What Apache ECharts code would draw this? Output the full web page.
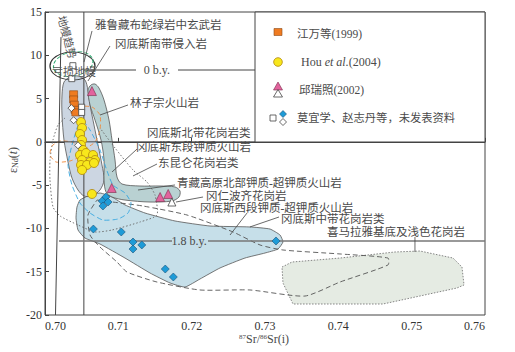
<!DOCTYPE html>
<html><head><meta charset="utf-8">
<script src="https://cdn.jsdelivr.net/npm/echarts/dist/echarts.min.js"></script>
<style>html,body{margin:0;padding:0;background:#fff}#c{width:515px;height:352px}</style>
</head><body><div id="c"></div>
<script>
// ---------- data (x = 87Sr/86Sr(i), y = εNd(t)) ----------
const orangeSquares = [[0.7039,5.5],[0.7039,4.9],[0.7040,4.3],[0.7041,3.7],[0.7042,3.4]];
const yellowCircles = [[0.70491,2.29],[0.70505,1.60],[0.70477,0.91],[0.70505,0.21],[0.70491,-0.36],[0.70518,-0.94],[0.70477,-1.52],[0.70559,-1.29],[0.70655,-1.52],[0.70682,-2.10],[0.70505,-2.10],[0.70614,-2.33],[0.70491,-2.67],[0.70573,-2.67],[0.70668,-2.44],[0.70505,-3.25],[0.70641,-6.02]];
const pinkTriangles = [[0.7064,5.87],[0.7091,-5.33],[0.7157,-6.37],[0.7168,-6.02]];
const openTriangles = [[0.7173,-6.95]];
const openSquares = [[0.7038,8.8],[0.70365,7.3],[0.7050,4.0],[0.7050,3.4]];
const openDiamonds = [[0.7036,3.9],[0.7039,2.5],[0.7045,-0.4]];
const blueDiamonds = [[0.7083,-6.37],[0.7078,-6.83],[0.7086,-6.95],[0.7079,-7.41],[0.7066,-10.07],[0.7104,-10.41],[0.7120,-11.57],[0.7132,-11.91],[0.7120,-12.38],[0.7164,-14.69],[0.7175,-15.61],[0.7315,-11.45]];

// field outlines
const fieldGangdese = [[0.70259,6.91],[0.70341,7.49],[0.70450,7.61],[0.70545,7.15],[0.70586,5.99],[0.70614,4.26],[0.70668,1.95],[0.70723,-0.36],[0.70777,-2.67],[0.70805,-4.41],[0.70750,-5.56],[0.70641,-6.25],[0.70532,-6.25],[0.70450,-5.56],[0.70368,-4.18],[0.70314,-2.33],[0.70259,0.21],[0.70232,3.10],[0.70232,5.41]];
const fieldNTibet = [[0.70586,5.99],[0.70627,6.57],[0.70682,6.68],[0.70736,6.22],[0.70805,4.83],[0.70873,2.52],[0.70914,0.21],[0.70955,-2.10],[0.70982,-4.06],[0.71050,-4.87],[0.71295,-5.10],[0.71568,-5.10],[0.71773,-5.21],[0.71841,-5.68],[0.71827,-6.37],[0.71732,-6.83],[0.71432,-6.95],[0.71091,-6.72],[0.70914,-6.37],[0.70832,-5.79],[0.70805,-4.41],[0.70805,-2.10],[0.70764,0.21],[0.70682,2.52],[0.70614,4.26]];
const fieldWestK = [[0.70436,-7.52],[0.70477,-6.72],[0.70586,-6.25],[0.70750,-5.91],[0.70914,-6.37],[0.71091,-7.29],[0.71364,-8.22],[0.71773,-9.14],[0.72250,-9.72],[0.72795,-9.83],[0.73068,-10.07],[0.73205,-10.76],[0.73245,-11.57],[0.73177,-12.38],[0.73000,-12.84],[0.72727,-13.42],[0.72386,-14.57],[0.72114,-15.84],[0.71909,-16.77],[0.71705,-16.30],[0.71432,-15.15],[0.71091,-13.42],[0.70750,-11.80],[0.70545,-11.11],[0.70450,-10.18],[0.70423,-8.80]];
const fieldHimalaya = [[0.73232,-14.46],[0.73368,-13.88],[0.74023,-13.42],[0.74773,-12.72],[0.75114,-12.61],[0.75564,-13.42],[0.75686,-14.46],[0.75714,-16.53],[0.75618,-16.88],[0.74609,-18.73],[0.73382,-18.73],[0.73245,-16.30]];
const outlineMidBelt = [[0.70709,-6.72],[0.71023,-7.06],[0.71336,-7.41],[0.71936,-8.45],[0.72564,-10.41],[0.72932,-11.91],[0.73245,-12.49],[0.74023,-12.95],[0.74677,-13.42],[0.74677,-14.22],[0.74023,-16.19],[0.73545,-17.81],[0.72795,-17.11],[0.72114,-17.11],[0.71527,-16.19],[0.71118,-15.03],[0.70982,-13.88],[0.70750,-12.15],[0.70614,-10.76],[0.70586,-8.45]];
const outlineKunlun = [[0.70273,2.76],[0.70177,1.95],[0.70109,0.21],[0.70068,-2.10],[0.70068,-4.41],[0.70109,-7.52],[0.70205,-8.56],[0.70450,-9.60],[0.70682,-10.41],[0.70914,-10.18],[0.71295,-9.26],[0.71527,-8.45],[0.71500,-6.14],[0.71391,-4.64],[0.71200,-3.25],[0.70955,-0.71],[0.70750,1.60]];
const outlineLinzizong = [[0.70450,4.14],[0.70641,4.03],[0.70750,3.10],[0.70750,1.37],[0.70682,-0.02],[0.70545,-0.71],[0.70368,-0.02],[0.70205,0.10],[0.70095,-0.48],[0.70068,-1.52],[0.70150,-2.33],[0.70341,-2.21],[0.70505,-1.63]];
const outlineEastK = [[0.70450,1.95],[0.70368,-0.36],[0.70314,-2.67],[0.70368,-4.98],[0.70477,-7.06],[0.70614,-8.22],[0.70791,-9.03],[0.70995,-8.91],[0.71132,-8.22],[0.71173,-7.06],[0.71091,-5.91],[0.70927,-4.98],[0.70832,-3.02],[0.70750,-0.94],[0.70614,1.37],[0.70505,2.52]];

// reference lines [x1,y1,x2,y2]
const mantleLine = [[0.70218,12.1,0.70143,-20]];
const refLines = [[0.7053,15,0.7053,-20],[0.70,0,0.76,0]];
const isochron0 = [[0.7053,8.3,0.71241,8.3],[0.71814,8.3,0.72864,8.3]];
const isochron18 = [[0.70191,-11.45,0.71732,-11.45],[0.72223,-11.45,0.76,-11.45]];
const leaderLines = [[0.70641,12.81,0.70532,9.22],[0.70886,11.07,0.70586,7.03],[0.71132,4.26,0.70750,3.10],[0.71255,-0.83,0.70914,-3.48],[0.71527,-2.56,0.71200,-3.94],[0.71773,-4.98,0.71268,-5.56],[0.72155,-6.37,0.71786,-6.95],[0.72755,-8.22,0.72523,-10.76],[0.73191,-8.68,0.72795,-9.83],[0.75045,-10.99,0.75045,-12.72]];

// ellipses: centre, half-axes
const dmEllipse = [0.70375, 8.76, 0.00307, 1.62];
const dmEllipseInner = [0.70385, 9.0, 0.00273, 1.39];

// text annotations
const labelTexts = ['雅鲁藏布蛇绿岩中玄武岩','冈底斯南带侵入岩','林子宗火山岩','冈底斯北带花岗岩类','冈底斯东段钾质火山岩','东昆仑花岗岩类','青藏高原北部钾质-超钾质火山岩','冈仁波齐花岗岩','冈底斯西段钾质-超钾质火山岩','冈底斯中带花岗岩类','喜马拉雅基底及浅色花岗岩'];
const labelAnchors = [[0.70682,13.5],[0.70955,11.3],[0.71159,4.49],[0.71391,1.02],[0.71241,-0.59],[0.71541,-2.44],[0.71800,-4.75],[0.72195,-6.25],[0.72114,-7.64],[0.73218,-8.91],[0.73845,-10.41]];
const ageTexts = ['0 b.y.','1.8 b.y.'];
const ageAnchors = [[0.71527,8.3],[0.71964,-11.45]];
const smallTexts = ['地幔趋势','亏损地幔'];
const smallAnchors = [[0.70300,12.1],[0.70395,8.07]];

// ---------- chart ----------
const CJK = "'Liberation Serif','Noto Sans CJK SC'";
const TXT = '#4a4a4a';
const chart = echarts.init(document.getElementById('c'), null, {renderer:'svg'});

function field(pts, style, smooth, z){
  return {type:'custom', coordinateSystem:'cartesian2d', silent:true, z:z, clip:false,
    data:[pts[0]], encode:{x:0,y:1},
    renderItem:function(p, api){
      return {type:'polygon', shape:{points:pts.map(d=>api.coord(d)), smooth:smooth||0}, style:Object.assign({}, style)};
    }};
}
function outline(pts, style, closed, z){
  return {type:'custom', coordinateSystem:'cartesian2d', silent:true, z:z, clip:false,
    data:[pts[0]], encode:{x:0,y:1},
    renderItem:function(p, api){
      const q = pts.map(d=>api.coord(d));
      if (closed) q.push(q[0]);
      return {type:'polyline', shape:{points:q, smooth:0.2}, style:Object.assign({fill:'none'}, style)};
    }};
}
function segs(list, style, z){
  return {type:'custom', coordinateSystem:'cartesian2d', silent:true, z:z, clip:false,
    data:list, encode:{x:[0,2], y:[1,3]},
    renderItem:function(p, api){
      const a = api.coord([api.value(0), api.value(1)]);
      const b = api.coord([api.value(2), api.value(3)]);
      return {type:'line', shape:{x1:a[0],y1:a[1],x2:b[0],y2:b[1]}, style:Object.assign({fill:'none'}, style)};
    }};
}
function ellipse(e, style, rot, z){
  return {type:'custom', coordinateSystem:'cartesian2d', silent:true, z:z, clip:false,
    data:[[e[0],e[1]]], encode:{x:0,y:1},
    renderItem:function(p, api){
      const c = api.coord([e[0], e[1]]);
      const s = api.size([e[2], e[3]], [e[0], e[1]]);
      return {type:'circle', x:c[0], y:c[1], rotation:rot, scaleX:s[0]/s[1], scaleY:1,
        shape:{cx:0, cy:0, r:s[1]}, style:Object.assign({fill:'none', strokeNoScale:true}, style)};
    }};
}
function texts(strs, anchors, style, z, rots){
  return {type:'custom', coordinateSystem:'cartesian2d', silent:true, z:z, clip:false,
    data:anchors, encode:{x:0,y:1},
    renderItem:function(p, api){
      const c = api.coord([api.value(0), api.value(1)]);
      return {type:'text', x:c[0], y:c[1], rotation: rots ? rots[p.dataIndex] : 0,
        style:Object.assign({text:strs[p.dataIndex]}, style)};
    }};
}
function scatter(data, symbol, size, color, border, bw){
  return {type:'scatter', data:data, symbol:symbol, symbolSize:size, z:10, silent:true,
    itemStyle:{color:color, borderColor:border, borderWidth:bw, opacity:1}};
}

const option = {
  animation:false,
  backgroundColor:'#fff',
  grid:{left:45, right:30, top:12, bottom:37, show:true, borderColor:'#444', borderWidth:1},
  xAxis:{type:'value', min:0.70, max:0.76, interval:0.01,
    axisLine:{lineStyle:{color:'#444'}}, axisTick:{inside:true, length:4, lineStyle:{color:'#444'}},
    splitLine:{show:false},
    axisLabel:{formatter:v=>v.toFixed(2), fontFamily:'Liberation Serif', fontSize:12, color:'#333', margin:5, alignMinLabel:'left', alignMaxLabel:'right'}},
  yAxis:{type:'value', min:-20, max:15, interval:5,
    axisLine:{lineStyle:{color:'#444'}}, axisTick:{inside:true, length:4, lineStyle:{color:'#444'}},
    splitLine:{show:false},
    axisLabel:{fontFamily:'Liberation Serif', fontSize:12, color:'#333', margin:3}},
  series:[
    field(fieldWestK, {fill:'#c6dfe9', stroke:'#555', lineWidth:0.8}, 0.15, 1),
    field(fieldGangdese, {fill:'#ccd6e2', stroke:'#555', lineWidth:0.8}, 0.3, 1),
    field(fieldNTibet, {fill:'#b9d1d2', stroke:'#555', lineWidth:0.8}, 0.3, 1),
    field(fieldHimalaya, {fill:'#e5ebe3', stroke:'#777', lineWidth:0.9, lineDash:[1.5,1.5]}, 0, 1),
    outline(outlineMidBelt, {stroke:'#555', lineWidth:0.9, lineDash:[5,3]}, true, 2),
    outline(outlineKunlun, {stroke:'#666', lineWidth:0.9, lineDash:[1.5,2]}, false, 2),
    outline(outlineLinzizong, {stroke:'#f08a3a', lineWidth:0.9, lineDash:[4,3]}, false, 2),
    outline(outlineEastK, {stroke:'#35a6e0', lineWidth:0.9, lineDash:[5,3]}, true, 2),
    ellipse(dmEllipse, {stroke:'#333', lineWidth:0.8}, 0, 3),
    ellipse(dmEllipseInner, {stroke:'#2faa70', lineWidth:0.9, lineDash:[4,2]}, 0.2, 3),
    segs(refLines, {stroke:'#444', lineWidth:1}, 3),
    segs(mantleLine, {stroke:'#444', lineWidth:1}, 3),
    segs(isochron0, {stroke:'#444', lineWidth:1}, 3),
    segs(isochron18, {stroke:'#777', lineWidth:1.4}, 3),
    segs(leaderLines, {stroke:'#444', lineWidth:0.8}, 3),
    scatter(blueDiamonds, 'diamond', 8, '#1e9bd7', '#1a4f75', 0.6),
    scatter(yellowCircles, 'circle', 9, '#f8e71c', '#b0860e', 0.8),
    scatter(orangeSquares, 'rect', [8,7], '#ef7b21', '#8a4a1a', 0.6),
    scatter(openSquares, 'rect', 6, '#ffffff', '#444', 0.8),
    scatter(openDiamonds, 'diamond', 7, '#ffffff', '#444', 0.8),
    scatter(pinkTriangles, 'triangle', 9, '#e2639d', '#7a2a4a', 0.6),
    scatter(openTriangles, 'triangle', 8, '#ffffff', '#444', 0.8),
    texts(labelTexts, labelAnchors, {font:"11.5px "+CJK, fill:TXT, align:'left', verticalAlign:'middle'}, 12),
    texts(ageTexts, ageAnchors, {font:"12px 'Liberation Serif'", fill:TXT, align:'center', verticalAlign:'middle'}, 12),
    texts(smallTexts, smallAnchors, {font:"11px "+CJK, fill:'#555', align:'center', verticalAlign:'middle'}, 12, [-1.31, 0])
  ],
  graphic:[
    {type:'rect', shape:{x:255, y:12, width:230, height:130}, style:{fill:'#fff', stroke:'#444', lineWidth:1}, z:20},
    {type:'rect', shape:{x:274, y:28.5, width:8, height:7}, style:{fill:'#ef7b21', stroke:'#8a4a1a', lineWidth:0.6}, z:21},
    {type:'text', x:297, y:34, style:{text:'江万等(1999)', font:"11.5px "+CJK, fill:TXT, verticalAlign:'middle'}, z:21},
    {type:'circle', shape:{cx:278, cy:62, r:4.3}, style:{fill:'#f8e71c', stroke:'#b0860e', lineWidth:0.8}, z:21},
    {type:'text', x:301, y:62, style:{text:'{n|Hou }{i|et al.}{n|(2004)}', rich:{n:{font:"12px 'Liberation Serif'", fill:TXT}, i:{font:"italic 12px 'Liberation Serif'", fill:TXT}}, verticalAlign:'middle'}, z:21},
    {type:'polygon', shape:{points:[[278,82],[282.5,90],[273.5,90]]}, style:{fill:'#e2639d', stroke:'#7a2a4a', lineWidth:0.6}, z:21},
    {type:'polygon', shape:{points:[[278,89.5],[282.5,97],[273.5,97]]}, style:{fill:'#fff', stroke:'#444', lineWidth:0.8}, z:21},
    {type:'text', x:299, y:90, style:{text:'邱瑞照(2002)', font:"11.5px "+CJK, fill:TXT, verticalAlign:'middle'}, z:21},
    {type:'rect', shape:{x:270, y:115, width:6, height:6}, style:{fill:'#fff', stroke:'#444', lineWidth:0.8}, z:21},
    {type:'polygon', shape:{points:[[283,110.5],[286.5,114],[283,117.5],[279.5,114]]}, style:{fill:'#1e9bd7', stroke:'#1a4f75', lineWidth:0.6}, z:21},
    {type:'polygon', shape:{points:[[283,118.5],[286.5,122],[283,125.5],[279.5,122]]}, style:{fill:'#fff', stroke:'#444', lineWidth:0.8}, z:21},
    {type:'text', x:297, y:118, style:{text:'莫宜学、赵志丹等，未发表资料', font:"11.3px "+CJK, fill:TXT, verticalAlign:'middle'}, z:21},
    {type:'text', x:264, y:339, style:{text:'{s|87}{n|Sr/}{s|86}{n|Sr(i)}', rich:{n:{font:"12px 'Liberation Serif'", fill:TXT}, s:{font:"7px 'Liberation Serif'", fill:TXT, verticalAlign:'top'}}, align:'center', verticalAlign:'middle'}, z:21},
    {type:'text', x:13, y:160, rotation:Math.PI/2, style:{text:'{n|ε}{s|Nd}{n|(}{i|t}{n|)}', rich:{n:{font:"12px 'Liberation Serif'", fill:TXT}, i:{font:"italic 12px 'Liberation Serif'", fill:TXT}, s:{font:"8px 'Liberation Serif'", fill:TXT, verticalAlign:'bottom'}}, align:'center', verticalAlign:'middle'}, z:21}
  ]
};
chart.setOption(option);
</script>
</body></html>
